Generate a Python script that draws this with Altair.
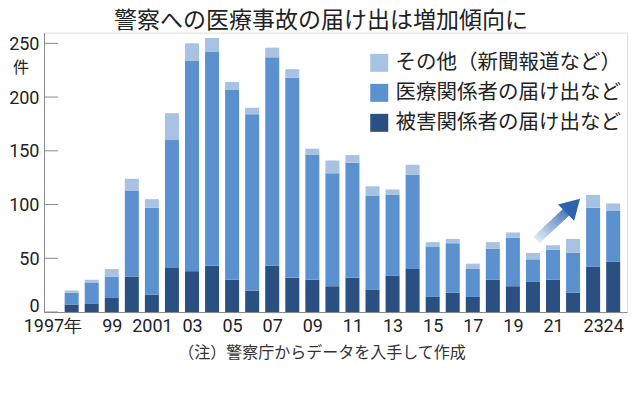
import altair as alt
import pandas as pd

# ---- data ----
years = list(range(1997, 2025))
victim = [7, 8, 13, 33, 16, 41, 38, 43, 30, 20, 43, 32, 30, 24, 32, 21, 34, 40, 14, 18, 14, 30, 24, 28, 30, 18, 42, 47]
medical = [11, 19, 20, 80, 81, 119, 196, 199, 177, 164, 194, 186, 116, 105, 107, 87, 75, 88, 47, 46, 26, 29, 45, 21, 28, 37, 55, 47]
other = [2, 3, 7, 11, 8, 25, 16, 13, 7, 6, 9, 8, 6, 12, 7, 9, 5, 9, 4, 4, 5, 6, 5, 6, 4, 13, 12, 7]

series_names = ["その他（新聞報道など）", "医療関係者の届け出など", "被害関係者の届け出など"]
series_colors = ["#a7c2e3", "#5b91cf", "#2a5082"]

tick_years = [1997, 1999, 2001, 2003, 2005, 2007, 2009, 2011, 2013, 2015, 2017, 2019, 2021, 2023, 2024]
tick_labels = ["1997年", "99", "2001", "03", "05", "07", "09", "11", "13", "15", "17", "19", "21", "23", "24"]
y_ticks = [0, 50, 100, 150, 200, 250]

arrow_x = [2020.17, 2022.0]
arrow_y = [67, 99.0]

title_text = "警察への医療事故の届け出は増加傾向に"
note_text = "（注）警察庁からデータを入手して作成"
unit_text = "件"

JP = "Noto Sans CJK JP"
NUM = "Roboto, sans-serif"
TXT = "#222222"
AX = "#8a8a8a"

rows = []
stack_series = [(series_names[2], victim), (series_names[1], medical), (series_names[0], other)]
for i, yr in enumerate(years):
    for rank, (name, vals) in enumerate(stack_series):
        rows.append({"year": yr, "series": name, "value": vals[i], "rank": rank})
df = pd.DataFrame(rows)

x_scale = alt.Scale(domain=[1995.87, 2024.44], nice=False, zero=False)
y_scale = alt.Scale(domain=[0, 260], nice=False)

years_js = "[" + ",".join(str(v) for v in tick_years) + "]"
labels_js = "[" + ",".join("'" + s + "'" for s in tick_labels) + "]"
label_expr = f"{labels_js}[indexof({years_js}, datum.value)]"

bars = alt.Chart(df).mark_bar(size=14).encode(
    x=alt.X(
        "year:Q",
        scale=x_scale,
        axis=alt.Axis(
            values=tick_years,
            labelExpr=label_expr,
            title=None,
            grid=False,
            ticks=False,
            domain=True,
            domainColor=AX,
            labelFont=NUM,
            labelFontSize=18,
            labelColor=TXT,
            labelPadding=5,
            labelAlign=alt.ConditionalAxisLabelAlign(
                condition={"test": "datum.value == 1997", "value": "right"}, value="center"
            ),
            labelOffset=alt.ConditionalAxisNumber(
                condition={"test": "datum.value == 1997", "value": 10}, value=0
            ),
            labelFlush=False,
            labelOverlap=False,
        ),
    ),
    y=alt.Y(
        "value:Q",
        stack="zero",
        scale=y_scale,
        axis=alt.Axis(
            values=y_ticks,
            title=None,
            grid=False,
            ticks=False,
            domain=True,
            domainColor=AX,
            labelFont=NUM,
            labelFontSize=18,
            labelColor=TXT,
            labelPadding=5,
            labelOffset=alt.ConditionalAxisNumber(
                condition={"test": "datum.value == 0", "value": -6}, value=1
            ),
        ),
    ),
    color=alt.Color(
        "series:N",
        scale=alt.Scale(domain=series_names, range=series_colors),
        legend=alt.Legend(
            title=None,
            orient="none",
            legendX=325,
            legendY=20,
            symbolType="square",
            symbolSize=324,
            symbolStrokeWidth=0,
            symbolOpacity=1,
            labelFont=JP,
            labelFontSize=20.5,
            labelColor=TXT,
            labelOffset=6,
            rowPadding=9,
            labelLimit=400,
        ),
    ),
    order=alt.Order("rank:Q"),
)

ticks = alt.Chart(pd.DataFrame({"v": y_ticks})).mark_rule(color=AX, strokeWidth=1).encode(
    y=alt.Y("v:Q", scale=y_scale),
    x=alt.value(0),
    x2=alt.value(14),
)

arrow_df = pd.DataFrame({"x": arrow_x, "y": arrow_y})
shaft = alt.Chart(arrow_df).mark_line(
    strokeWidth=9,
    strokeCap="butt",
    stroke=alt.LinearGradient(
        gradient="linear",
        stops=[
            alt.GradientStop(color="#e3ecf7", offset=0),
            alt.GradientStop(color="#2e64ae", offset=1),
        ],
        x1=0, x2=1, y1=1, y2=0,
    ),
).encode(
    x=alt.X("x:Q", scale=x_scale),
    y=alt.Y("y:Q", scale=y_scale),
)
head = alt.Chart(arrow_df.tail(1)).mark_point(
    shape="triangle-up", filled=True, size=520, angle=45, color="#2e64ae", opacity=1
).encode(
    x=alt.X("x:Q", scale=x_scale),
    y=alt.Y("y:Q", scale=y_scale),
)

title = alt.Chart(pd.DataFrame({"t": [title_text]})).mark_text(
    font=JP, fontSize=23, color=TXT, align="center", baseline="middle"
).encode(text="t:N", x=alt.value(277), y=alt.value(-12))

note = alt.Chart(pd.DataFrame({"t": [note_text]})).mark_text(
    font=JP, fontSize=16, color="#333333", align="center", baseline="middle"
).encode(text="t:N", x=alt.value(278), y=alt.value(320.5))

unit = alt.Chart(pd.DataFrame({"t": [unit_text]})).mark_text(
    font=JP, fontSize=16, color=TXT, align="center", baseline="middle"
).encode(text="t:N", x=alt.value(-23), y=alt.value(35.5))

chart = alt.layer(bars, ticks, shaft, head, title, note, unit).properties(
    width=583,
    height=279.4,
    autosize=alt.AutoSizeParams(type="none"),
    padding={"left": 36, "top": 24.6, "right": 1, "bottom": 60},
).configure_view(stroke=None).configure(background="white")

chart.save("out.html", embed_options={"renderer": "svg", "actions": False})
